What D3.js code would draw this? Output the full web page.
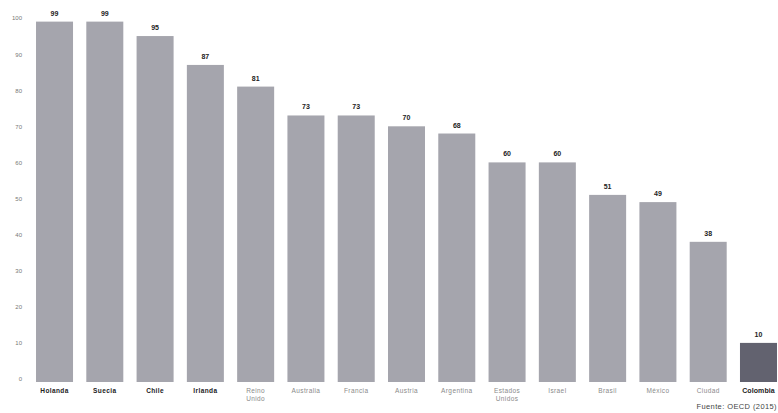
<!DOCTYPE html>
<html>
<head>
<meta charset="utf-8">
<script src="https://cdn.jsdelivr.net/npm/d3@7"></script>
<style>
  body { margin: 0; background: #fff; }
  svg { display: block; font-family: 'Liberation Sans', Arial, sans-serif; }
</style>
</head>
<body>
<svg id="chart" width="778" height="413"></svg>
<script>
const countries = ['Holanda', 'Suecia', 'Chile', 'Irlanda', 'Reino Unido', 'Australia', 'Francia', 'Austria',
  'Argentina', 'Estados Unidos', 'Israel', 'Brasil', 'México', 'Ciudad', 'Colombia']
const values = [99, 99, 95, 87, 81, 73, 73, 70, 68, 60, 60, 51, 49, 38, 10]
const yTicks = [0, 10, 20, 30, 40, 50, 60, 70, 80, 90, 100]
const source = 'Fuente: OECD (2015)'

const svg = d3.select('#chart')

const x = d3.scaleBand()
  .domain(countries)
  .range([33, 780])
  .paddingInner(0.264)
  .paddingOuter(0.06)

const y = d3.scaleLinear()
  .domain([0, 100])
  .range([379, 18])

// Y axis, tick labels only
const yAxis = svg.append('g')
  .attr('transform', 'translate(22,0)')
  .call(d3.axisLeft(y).tickValues(yTicks).tickSize(0).tickPadding(0))
yAxis.select('.domain').remove()
yAxis.selectAll('text')
  .style('font-size', '6px')
  .style('fill', '#777')

// Bars
svg.append('g')
  .selectAll('rect')
  .data(countries)
  .enter()
  .append('rect')
  .attr('x', d => x(d))
  .attr('width', x.bandwidth())
  .attr('y', (d, i) => y(values[i]))
  .attr('height', (d, i) => y(0) - y(values[i]) + 3)
  .attr('fill', d => d === 'Colombia' ? '#62626f' : '#a5a5ad')

// Value labels
svg.append('g')
  .selectAll('text')
  .data(countries)
  .enter()
  .append('text')
  .attr('x', d => x(d) + x.bandwidth() / 2)
  .attr('y', (d, i) => y(values[i]) - 6)
  .attr('text-anchor', 'middle')
  .style('font-size', '7px')
  .style('font-weight', 'bold')
  .style('fill', '#222')
  .text((d, i) => values[i])

// Category labels (two lines where needed)
const dark = ['Holanda', 'Suecia', 'Chile', 'Irlanda', 'Colombia']
const catLabels = svg.append('g')
  .selectAll('text')
  .data(countries)
  .enter()
  .append('text')
  .attr('x', d => x(d) + x.bandwidth() / 2)
  .attr('y', 393)
  .attr('text-anchor', 'middle')
  .style('font-size', d => d === 'Colombia' ? '7px' : '6.5px')
  .style('font-weight', d => dark.includes(d) ? 'bold' : 'normal')
  .style('letter-spacing', d => d === 'Colombia' ? '0.1px' : '0.4px')
  .style('fill', d => dark.includes(d) ? '#222' : '#8a8a8a')
catLabels.each(function (d) {
  const words = d.split(' ')
  const t = d3.select(this)
  words.forEach((w, k) => {
    t.append('tspan')
      .attr('x', x(d) + x.bandwidth() / 2)
      .attr('dy', k === 0 ? 0 : 8)
      .text(w)
  })
})

// Source
svg.append('text')
  .attr('x', 777)
  .attr('y', 409)
  .attr('text-anchor', 'end')
  .style('font-size', '7.5px')
  .style('letter-spacing', '0.4px')
  .style('fill', '#444')
  .text(source)
</script>
</body>
</html>
